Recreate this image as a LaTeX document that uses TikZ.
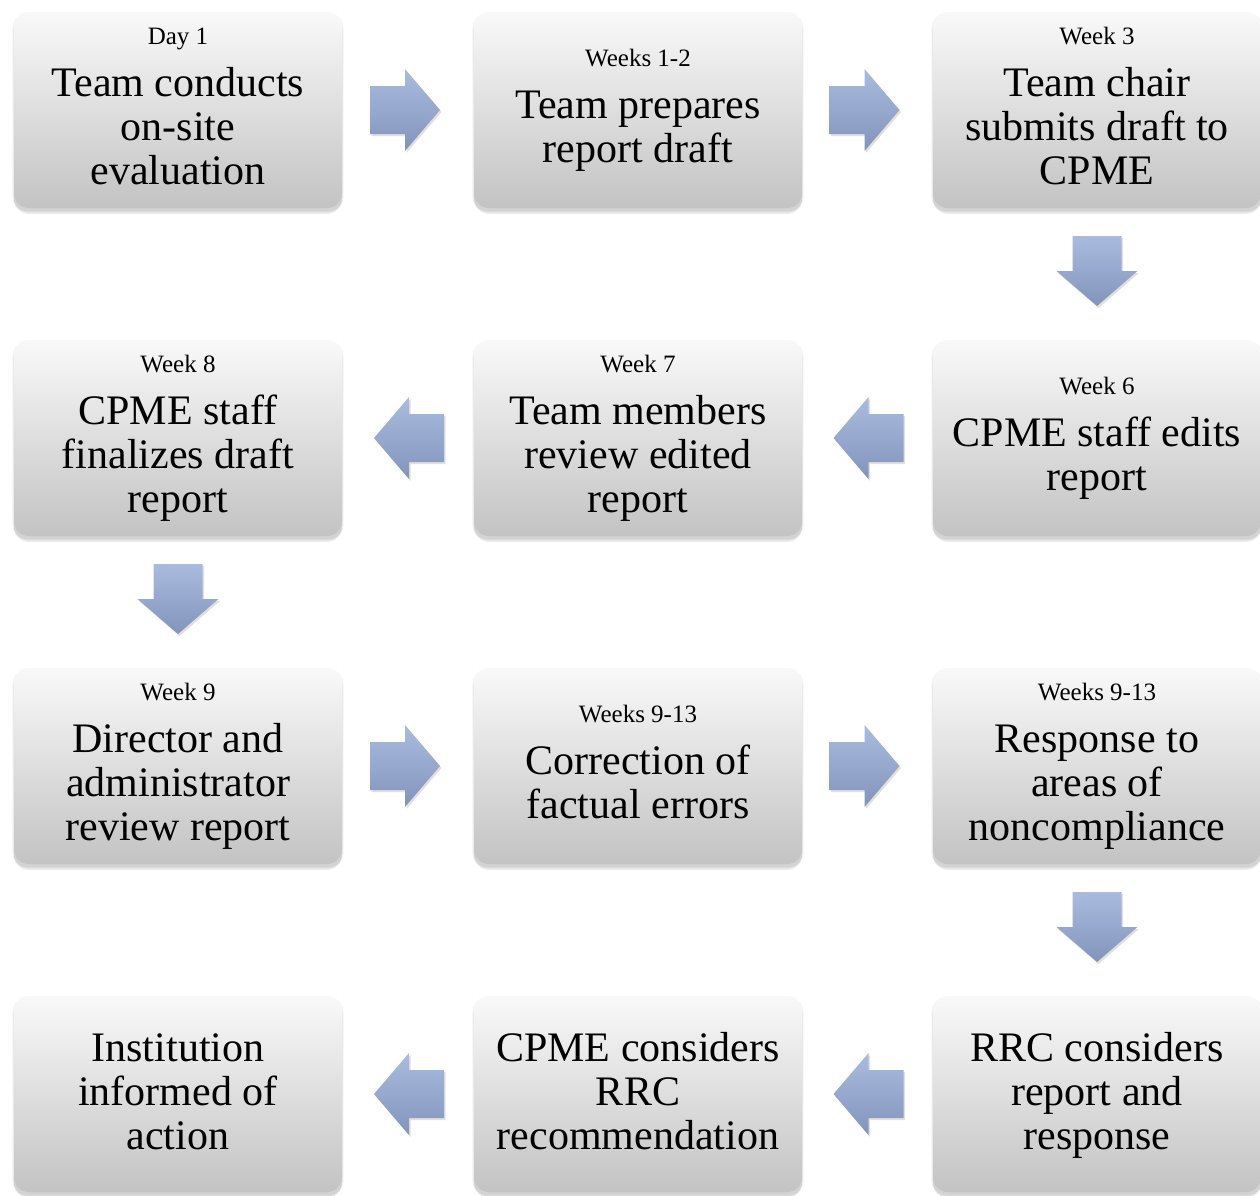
\documentclass[tikz,border=0pt]{standalone}
\usepackage{fontspec}
\setmainfont{Liberation Serif}
\usetikzlibrary{calc,shadows}
\definecolor{boxtop}{HTML}{F9F9F9}
\definecolor{boxbot}{HTML}{C3C3C3}
\definecolor{arrtop}{HTML}{A9BCDF}
\definecolor{arrbot}{HTML}{8394BB}
\newcommand\mainsz{\fontsize{42}{44}\selectfont}
\newcommand\labsz{\fontsize{25}{30}\selectfont}
\newcommand\lbltext[2]{\mainsz\begin{tabular}{@{}c@{}}{\labsz #1}\\[8pt]#2\end{tabular}}
\newcommand\pltext[1]{\mainsz\begin{tabular}{@{}c@{}}#1\end{tabular}}
\newcommand\rarr[2]{%
  \coordinate (m) at ($(#1.east)!0.5!(#2.west)$);
  \path[blockarrow] ($(m)+(-38,-24)$) -- ($(m)+(-3,-24)$) -- ($(m)+(-3,-41)$) -- ($(m)+(32,0)$)
    -- ($(m)+(-3,41)$) -- ($(m)+(-3,24)$) -- ($(m)+(-38,24)$) -- cycle;}
\newcommand\larr[2]{%
  \coordinate (m) at ($(#1.west)!0.5!(#2.east)$);
  \path[blockarrow] ($(m)+(36,-24)$) -- ($(m)+(1,-24)$) -- ($(m)+(1,-41)$) -- ($(m)+(-34,0)$)
    -- ($(m)+(1,41)$) -- ($(m)+(1,24)$) -- ($(m)+(36,24)$) -- cycle;}
\newcommand\darr[2]{%
  \coordinate (m) at ($(#1.south)!0.5!(#2.north)$);
  \path[blockarrow] ($(m)+(-24.5,-38)$) -- ($(m)+(-24.5,-3)$) -- ($(m)+(-40.5,-3)$) -- ($(m)+(0,32)$)
    -- ($(m)+(40.5,-3)$) -- ($(m)+(24.5,-3)$) -- ($(m)+(24.5,-38)$) -- cycle;}
\begin{document}
\begin{tikzpicture}[x=1pt,y=-1pt,
  card/.style={minimum width=328pt, minimum height=196pt, rounded corners=15pt,
    top color=boxtop, bottom color=boxbot, inner sep=0pt, draw=none,
    general shadow={fill=black, opacity=0.07, shadow yshift=-6pt},
    general shadow={fill=black, opacity=0.07, shadow yshift=-4pt, shadow scale=1.004},
    general shadow={fill=black, opacity=0.04, shadow yshift=-2pt, shadow scale=1.01}},
  txt/.style={inner sep=0pt, align=center},
  blockarrow/.style={top color=arrtop, bottom color=arrbot, draw=none,
    general shadow={fill=black, opacity=0.12, shadow xshift=1.5pt, shadow yshift=-2pt}}]
\useasboundingbox[fill=white] (0,0) rectangle (1260,1195);
% boxes
\node[card] (b1)  at (178,110) {};
\node[card] (b2)  at (638,110) {};
\node[card] (b3)  at (1097,110) {};
\node[card] (b4)  at (1097,438) {};
\node[card] (b5)  at (638,438) {};
\node[card] (b6)  at (178,438) {};
\node[card] (b7)  at (178,766) {};
\node[card] (b8)  at (638,766) {};
\node[card] (b9)  at (1097,766) {};
\node[card] (b10) at (1097,1094) {};
\node[card] (b11) at (638,1094) {};
\node[card] (b12) at (178,1094) {};
% texts
\node[txt] (t1)  at ([yshift=4pt]b1.center)  {\lbltext{Day 1}{Team conducts\\on-site\\evaluation}};
\node[txt] (t2)  at ([yshift=4pt]b2.center)  {\lbltext{Weeks 1-2}{Team prepares\\report draft}};
\node[txt] (t3)  at ([yshift=4pt]b3.center)  {\lbltext{Week 3}{Team chair\\submits draft to\\CPME}};
\node[txt] (t4)  at ([yshift=4pt]b4.center)  {\lbltext{Week 6}{CPME staff edits\\report}};
\node[txt] (t5)  at ([yshift=4pt]b5.center)  {\lbltext{Week 7}{Team members\\review edited\\report}};
\node[txt] (t6)  at ([yshift=4pt]b6.center)  {\lbltext{Week 8}{CPME staff\\finalizes draft\\report}};
\node[txt] (t7)  at ([yshift=4pt]b7.center)  {\lbltext{Week 9}{Director and\\administrator\\review report}};
\node[txt] (t8)  at ([yshift=4pt]b8.center)  {\lbltext{Weeks 9-13}{Correction of\\factual errors}};
\node[txt] (t9)  at ([yshift=4pt]b9.center)  {\lbltext{Weeks 9-13}{Response to\\areas of\\noncompliance}};
\node[txt] (t10) at ([yshift=-3pt]b10.center) {\pltext{RRC considers\\report and\\response}};
\node[txt] (t11) at ([yshift=-3pt]b11.center) {\pltext{CPME considers\\RRC\\recommendation}};
\node[txt] (t12) at ([yshift=-3pt]b12.center) {\pltext{Institution\\informed of\\action}};
% arrows
\rarr{b1}{b2}
\rarr{b2}{b3}
\darr{b3}{b4}
\larr{b4}{b5}
\larr{b5}{b6}
\darr{b6}{b7}
\rarr{b7}{b8}
\rarr{b8}{b9}
\darr{b9}{b10}
\larr{b10}{b11}
\larr{b11}{b12}
\end{tikzpicture}
\end{document}
